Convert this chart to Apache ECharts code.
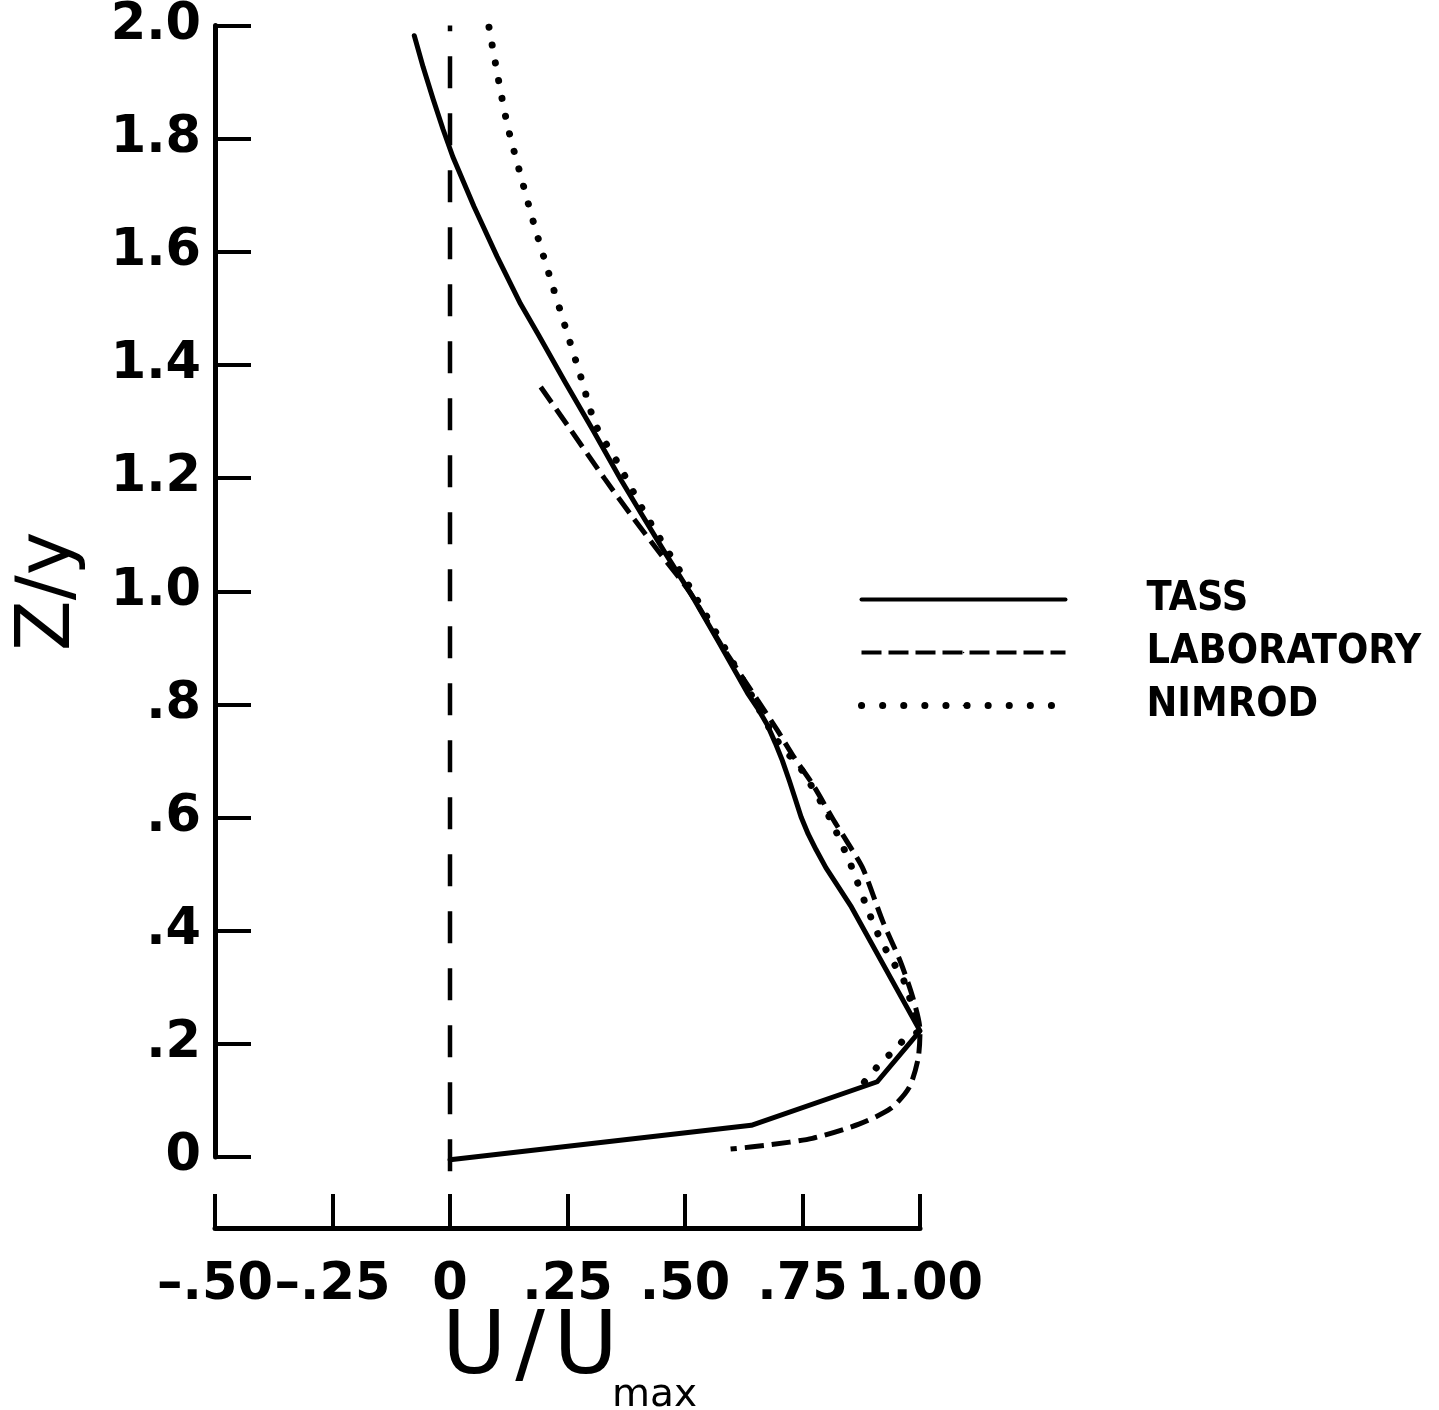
<!DOCTYPE html>
<html><head><meta charset="utf-8">
<script src="https://cdn.jsdelivr.net/npm/echarts@6/dist/echarts.min.js"></script>
<style>html,body{margin:0;padding:0;background:#fff}#c{width:1439px;height:1410px}</style>
</head><body><div id="c"></div>
<script>
const seriesNames = ['TASS', 'LABORATORY', 'NIMROD'];
const tass = [
  [-0.076, 1.982], [-0.057, 1.926], [-0.036, 1.870], [-0.015, 1.817], [0.006, 1.768],
  [0.051, 1.680], [0.100, 1.592], [0.150, 1.508], [0.189, 1.452], [0.246, 1.368],
  [0.304, 1.285], [0.363, 1.198], [0.410, 1.133], [0.459, 1.066], [0.510, 0.999],
  [0.571, 0.911], [0.633, 0.820], [0.654, 0.794], [0.675, 0.764], [0.692, 0.732],
  [0.707, 0.701], [0.722, 0.665], [0.735, 0.632], [0.747, 0.601], [0.762, 0.571],
  [0.779, 0.543], [0.800, 0.511], [0.826, 0.478], [0.854, 0.442], [1.000, 0.223],
  [0.909, 0.133], [0.641, 0.056], [0.000, -0.005]
];
const laboratory = [
  [0.193, 1.361], [0.257, 1.285], [0.329, 1.199], [0.384, 1.136], [0.448, 1.066],
  [0.512, 0.996], [0.575, 0.908], [0.654, 0.808], [0.696, 0.755], [0.730, 0.709],
  [0.773, 0.657], [0.815, 0.597], [0.845, 0.557], [0.879, 0.509], [0.921, 0.416],
  [0.958, 0.346], [0.985, 0.281], [1.000, 0.223], [0.996, 0.174], [0.977, 0.123],
  [0.938, 0.086], [0.870, 0.058], [0.771, 0.033], [0.675, 0.021], [0.597, 0.014]
];
const nimrod = [
  [0.083, 1.997], [0.102, 1.909], [0.123, 1.821], [0.151, 1.733], [0.180, 1.645],
  [0.212, 1.557], [0.251, 1.452], [0.278, 1.380], [0.310, 1.294], [0.359, 1.224],
  [0.416, 1.136], [0.516, 0.999], [0.639, 0.820], [0.692, 0.741], [0.752, 0.680],
  [0.771, 0.653], [0.805, 0.604], [0.850, 0.522], [0.888, 0.439], [0.915, 0.386],
  [0.938, 0.351], [0.966, 0.311], [0.986, 0.258], [0.996, 0.223], [0.968, 0.209],
  [0.947, 0.190], [0.915, 0.165], [0.870, 0.121]
];
const zeroLine = [[0, -0.025], [0, 2.0]];
const xTicks = [-0.5, -0.25, 0, 0.25, 0.5, 0.75, 1.0];
const xTickLabels = ['\u2013.50', '\u2013.25', '0', '.25', '.50', '.75', '1.00'];
const yTicks = [0, 0.2, 0.4, 0.6, 0.8, 1.0, 1.2, 1.4, 1.6, 1.8, 2.0];
const yTickLabels = ['0', '.2', '.4', '.6', '.8', '1.0', '1.2', '1.4', '1.6', '1.8', '2.0'];
const xTitle = 'U\u200A/\u200AU';
const xTitleSub = 'max';
const yTitle = 'Z/y';

function lookup(ticks, labels, v) {
  for (let i = 0; i < ticks.length; i++) if (Math.abs(ticks[i] - v) < 1e-6) return labels[i];
  return '';
}
const tickFont = 'DejaVu Sans';
const lw = 5;
const chart = echarts.init(document.getElementById('c'), null, {renderer: 'canvas'});
chart.setOption({
  animation: false,
  backgroundColor: '#fff',
  grid: {left: 215, right: 519, top: 18, bottom: 253, containLabel: false},
  xAxis: {
    type: 'value', min: -0.5, max: 1.0, interval: 0.25, offset: 71,
    axisLine: {show: true, onZero: false, lineStyle: {color: '#000', width: lw}},
    axisTick: {show: true, inside: true, length: 34, lineStyle: {color: '#000', width: 4}},
    axisLabel: {margin: 32, color: '#000', fontSize: 51, fontWeight: 'bold', fontFamily: tickFont,
      formatter: v => lookup(xTicks, xTickLabels, v)},
    splitLine: {show: false}
  },
  yAxis: {
    type: 'value', min: 0, max: 2.0, interval: 0.2,
    name: yTitle, nameLocation: 'middle', nameGap: 128, nameRotate: 90,
    nameTextStyle: {fontSize: 74, fontFamily: 'DejaVu Sans', color: '#000'},
    axisLine: {show: true, onZero: false, lineStyle: {color: '#000', width: lw}},
    axisTick: {show: true, inside: true, length: 36, lineStyle: {color: '#000', width: 4}},
    axisLabel: {margin: 14, color: '#000', fontSize: 51, fontWeight: 'bold', fontFamily: tickFont,
      formatter: v => lookup(yTicks, yTickLabels, v)},
    splitLine: {show: false}
  },
  legend: {
    data: [
      {name: seriesNames[0], lineStyle: {width: 4, type: 'solid'}},
      {name: seriesNames[1], lineStyle: {width: 4, type: [20, 7]}},
      {name: seriesNames[2], lineStyle: {width: 7, type: [0.1, 21], cap: 'round'}}
    ],
    orient: 'vertical', left: 858, top: 573, padding: 0, itemGap: 0,
    itemWidth: 204, itemHeight: 2, selectedMode: false,
    lineStyle: {width: 4, color: '#000'},
    textStyle: {fontSize: 41, fontWeight: 'bold', color: '#000', lineHeight: 53,
      fontFamily: "'Liberation Sans Narrow', 'DejaVu Sans Condensed', 'Liberation Sans'",
      padding: [0, 0, 0, 76]}
  },
  graphic: [
    {type: 'text', x: 530, y: 1350, style: {text: xTitle, fontSize: 88, fontFamily: 'DejaVu Sans', fill: '#000', align: 'center', verticalAlign: 'middle'}},
    {type: 'text', x: 612, y: 1396, style: {text: xTitleSub, fontSize: 39, fontFamily: 'DejaVu Sans', fill: '#000', align: 'left', verticalAlign: 'middle'}}
  ],
  series: [
    {name: 'zero', type: 'line', data: zeroLine, symbol: 'none', clip: false, silent: true,
      lineStyle: {color: '#000', width: 4.5, type: [32, 25]}},
    {name: seriesNames[0], type: 'line', data: tass, symbol: 'none', clip: false,
      lineStyle: {color: '#000', width: lw, type: 'solid', join: 'round', cap: 'round'}, itemStyle: {color: '#000'}},
    {name: seriesNames[1], type: 'line', data: laboratory, symbol: 'none', clip: false, smooth: 0.25,
      lineStyle: {color: '#000', width: lw, type: [19, 8]}, itemStyle: {color: '#000'}},
    {name: seriesNames[2], type: 'line', data: nimrod, symbol: 'none', clip: false, smooth: 0.25,
      lineStyle: {color: '#000', width: 7, type: [0.1, 18], cap: 'round'}, itemStyle: {color: '#000'}}
  ]
});
</script></body></html>
